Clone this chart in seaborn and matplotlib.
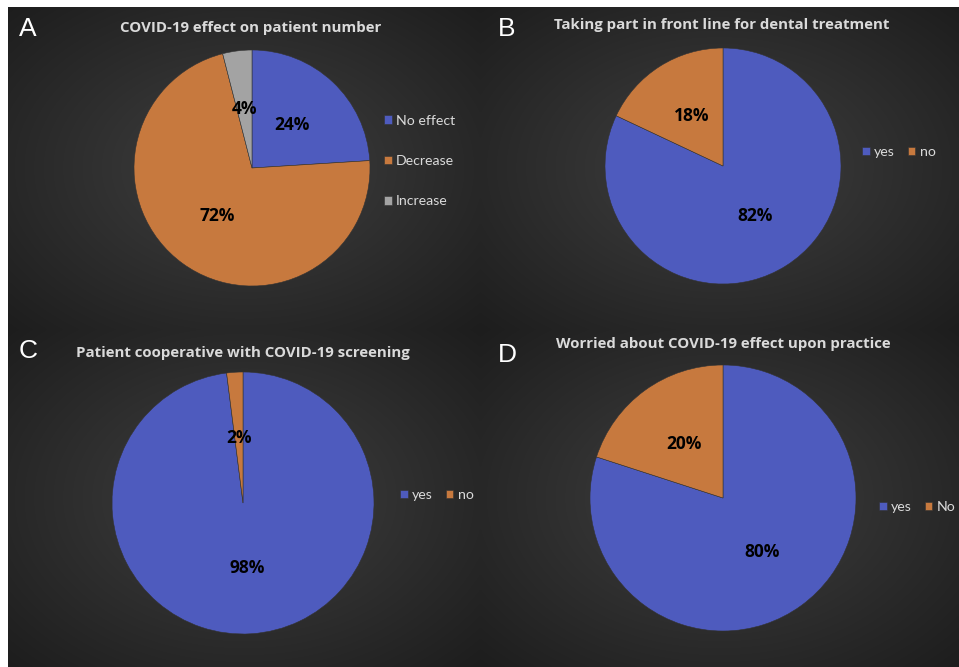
import numpy as np
import matplotlib
matplotlib.use("Agg")
import matplotlib.pyplot as plt
import seaborn as sns

# ---- data ----
a_title = "COVID-19 effect on patient number"
a_labels = ["No effect", "Decrease", "Increase"]
a_values = [24, 72, 4]

b_title = "Taking part in front line for dental treatment"
b_labels = ["yes", "no"]
b_values = [82, 18]

c_title = "Patient cooperative with COVID-19 screening"
c_labels = ["yes", "no"]
c_values = [98, 2]

d_title = "Worried about COVID-19 effect upon practice"
d_labels = ["yes", "No"]
d_values = [80, 20]

sns.set_theme(style="white")
plt.rcParams["font.family"] = ["Lato", "DejaVu Sans"]

BLUE = "#4E5BBE"
ORANGE = "#C7793E"
GRAY = "#A3A3A3"
palette = sns.color_palette([BLUE, ORANGE, GRAY])
TXT = "#DADADA"

W, H = 959, 667
fig = plt.figure(figsize=(W / 100, H / 100), dpi=100, facecolor="white")


def rect(x0, y0, x1, y1):
    return [x0 / W, 1 - y1 / H, (x1 - x0) / W, (y1 - y0) / H]


def fx(x):
    return x / W


def fy(y):
    return 1 - y / H


def panel_bg(x0, y0, x1, y1):
    ax = fig.add_axes(rect(x0, y0, x1, y1))
    nx, ny = 200, 200
    X, Y = np.meshgrid(np.linspace(-1, 1, nx), np.linspace(-1, 1, ny))
    r = np.sqrt(X ** 2 + Y ** 2) / np.sqrt(2)
    v = 0.25 * (1 - r) + 0.115 * r
    img = np.dstack([v, v, v])
    ax.imshow(img, extent=[0, 1, 0, 1], aspect="auto", interpolation="bilinear")
    ax.set_axis_off()
    return ax


def draw_pie(cx, cy, R, values, labels, colors):
    ax = fig.add_axes(rect(cx - R, cy - R, cx + R, cy + R))
    wedges, texts, autotexts = ax.pie(
        values, colors=colors, startangle=90, counterclock=False,
        autopct="%1.0f%%", pctdistance=0.5,
        wedgeprops=dict(edgecolor="#333333", linewidth=0.4),
        textprops=dict(color="black", fontsize=12.5, fontweight="bold",
                       family=["Open Sans", "DejaVu Sans"]),
    )
    ax.set_xlim(-1, 1)
    ax.set_ylim(-1, 1)
    ax.set_aspect("equal")
    ax.set_axis_off()
    return wedges


panels = [
    (8, 7, 480, 330),
    (480, 7, 959, 330),
    (8, 330, 480, 667),
    (480, 330, 959, 667),
]
for p in panels:
    panel_bg(*p)

# Pies
wa = draw_pie(252, 168, 118, a_values, a_labels, palette[:3])
wb = draw_pie(723, 166, 118, b_values, b_labels, palette[:2])
wc = draw_pie(243, 503, 131, c_values, c_labels, palette[:2])
wd = draw_pie(723, 498, 133, d_values, d_labels, palette[:2])

# Titles
tkw = dict(color=TXT, fontsize=10.8, fontweight="bold", ha="center", va="center",
           family=["Open Sans", "DejaVu Sans"])
fig.text(fx(251), fy(28), a_title, **tkw)
fig.text(fx(722), fy(25), b_title, **tkw)
fig.text(fx(243), fy(353), c_title, **tkw)
fig.text(fx(723), fy(344), d_title, **tkw)

# Panel letters
lkw = dict(color="white", fontsize=19, ha="center", va="center",
           family=["Liberation Sans", "DejaVu Sans"])
fig.text(fx(28), fy(29), "A", **lkw)
fig.text(fx(507), fy(29), "B", **lkw)
fig.text(fx(28), fy(351), "C", **lkw)
fig.text(fx(507), fy(355), "D", **lkw)

# Legends
legkw = dict(frameon=False, labelcolor=TXT, fontsize=10.2, handlelength=0.55,
             handleheight=0.55, handletextpad=0.3, borderpad=0, borderaxespad=0,
             loc="center left")
fig.legend(wa, a_labels, bbox_to_anchor=(fx(384), fy(161)), labelspacing=2.0, **legkw)
fig.legend(wb, b_labels, bbox_to_anchor=(fx(862), fy(152)), ncol=2, columnspacing=0.9, **legkw)
fig.legend(wc, c_labels, bbox_to_anchor=(fx(400), fy(495)), ncol=2, columnspacing=0.9, **legkw)
fig.legend(wd, d_labels, bbox_to_anchor=(fx(879), fy(507)), ncol=2, columnspacing=0.9, **legkw)

fig.savefig("out.png", dpi=100, facecolor="white")
